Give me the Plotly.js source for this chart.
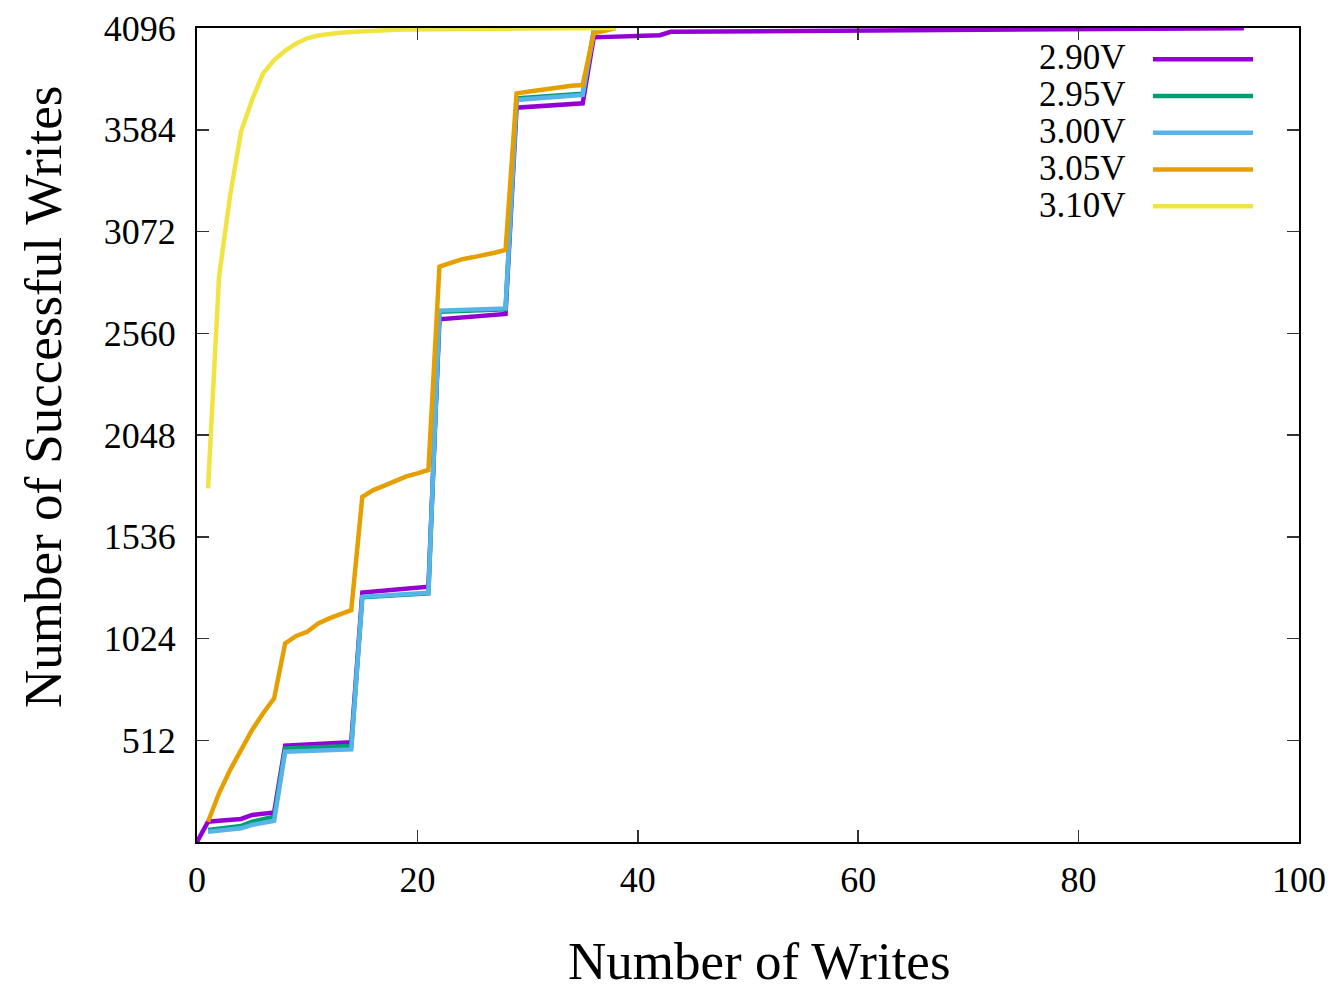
<!DOCTYPE html>
<html>
<head>
<meta charset="utf-8">
<script src="https://cdn.plot.ly/plotly-3.0.1.min.js"></script>
<style>html,body{margin:0;padding:0;background:#fff;}#chart{width:1335px;height:994px;}</style>
</head>
<body>
<div id="chart"></div>
<script>
// ---- data ----
const labels = ['2.90V', '2.95V', '3.00V', '3.05V', '3.10V'];
const colors = ['#9400d3', '#009e73', '#56b4e9', '#e69f00', '#f0e442'];

const x290 = [0,1,2,3,4,5,6,7,8,9,10,11,12,13,14,15,16,17,18,19,20,21,22,23,24,25,26,27,28,29,30,31,32,33,34,35,36,37,38,39,40,41,42,43,50,60,70,80,90,95];
const y290 = [0,102,107,112,116,136,142,149,485,488,491,494,497,500,502,1255,1260,1265,1270,1275,1280,1285,2630,2635,2639,2644,2648,2653,2657,3695,3699,3703,3707,3710,3714,3717,4049,4051,4053,4055,4056,4058,4060,4077,4080,4084,4088,4094,4095,4095];

const x295 = [1,2,3,4,5,6,7,8,9,10,11,12,13,14,15,16,17,18,19,20,21,22,23,24,25,26,27,28,29,30,31,32,33,34,35,36,37];
const y295 = [60,67,74,80,102,115,127,471,473,475,477,479,481,483,1231,1234,1238,1241,1244,1248,1251,2668,2670,2672,2674,2676,2678,2680,3742,3746,3750,3754,3758,3762,3765,4080,4094];

const x300 = [1,2,3,4,5,6,7,8,9,10,11,12,13,14,15,16,17,18,19,20,21,22,23,24,25,26,27,28,29,30,31,32,33,34,35,36,37];
const y300 = [52,58,63,69,86,97,107,454,456,458,460,462,464,466,1234,1237,1241,1244,1247,1251,1254,2674,2676,2678,2680,2682,2684,2685,3734,3738,3742,3746,3751,3755,3759,4078,4094];

const x305 = [1,2,3,4,5,6,7,8,9,10,11,12,13,14,15,16,17,18,19,20,21,22,23,24,25,26,27,28,29,30,31,32,33,34,35,36,37,38];
const y305 = [102,245,362,463,564,648,723,1000,1037,1058,1100,1125,1146,1167,1737,1771,1793,1815,1840,1855,1872,2895,2915,2932,2942,2952,2965,2979,3767,3775,3783,3792,3800,3805,3809,4069,4082,4096];

const x310 = [1,2,3,4,5,6,7,8,9,10,11,12,13,14,15,16,17,18,19,20,21,22,23,24,25,26,27,28,29,30,31,32,33,34,35,36,37,38];
const y310 = [1780,2845,3250,3575,3735,3868,3935,3982,4018,4044,4058,4066,4072,4076,4080,4083,4085,4087,4088,4089,4090,4090,4091,4091,4092,4092,4092,4093,4093,4093,4094,4094,4094,4095,4095,4095,4095,4096];

const xTicks = [0, 20, 40, 60, 80, 100];
const yTicks = [512, 1024, 1536, 2048, 2560, 3072, 3584, 4096];
const xTitle = 'Number of Writes';
const yTitle = 'Number of Successful Writes';

const xs = [x290, x295, x300, x305, x310];
const ys = [y290, y295, y300, y305, y310];

const FONT = 'Liberation Serif, Times New Roman, serif';

const traces = labels.map((lab, i) => ({
  type: 'scatter', mode: 'lines',
  x: xs[i], y: ys[i],
  name: ' ',
  hovertemplate: lab + ': %{y}<extra></extra>',
  line: {color: colors[i], width: 4.5}
}));

// legend labels drawn to the left of the legend line samples (gnuplot style)
const legendTop = 0.9643, legendStep = 0.04545;
const annotations = labels.map((lab, i) => ({
  xref: 'paper', yref: 'paper',
  x: 0.8448, y: legendTop - i * legendStep,
  xanchor: 'right', yanchor: 'middle',
  text: lab, showarrow: false,
  font: {family: FONT, size: 35, color: '#000'}
}));

// axis titles placed as in the reference
annotations.push({
  xref: 'paper', yref: 'paper', x: (760 - 197) / 1102, y: -(961 - 842) / 814,
  xanchor: 'center', yanchor: 'middle', showarrow: false,
  text: xTitle, font: {family: FONT, size: 53, color: '#000'}
});
annotations.push({
  xref: 'paper', yref: 'paper', x: -(197 - 43) / 1102, y: (842 - 397) / 814,
  xanchor: 'center', yanchor: 'middle', showarrow: false, textangle: -90,
  text: yTitle, font: {family: FONT, size: 53, color: '#000'}
});

const layout = {
  width: 1335, height: 994,
  margin: {l: 197, r: 36, t: 28, b: 152},
  paper_bgcolor: '#fff', plot_bgcolor: '#fff',
  font: {family: FONT, color: '#000'},
  showlegend: true,
  legend: {
    x: (1148 - 197) / 1102, xanchor: 'left',
    y: 0.9905, yanchor: 'top',
    bgcolor: 'rgba(0,0,0,0)',
    font: {family: FONT, size: 26},
    itemwidth: 100,
    tracegroupgap: 0
  },
  annotations: annotations,
  xaxis: {
    range: [0, 100],
    tickvals: xTicks,
    ticktext: xTicks.map(String),
    ticks: 'inside', ticklen: 12, tickwidth: 1.5, tickcolor: '#333',
    ticklabelstandoff: 5,
    showline: true, linecolor: '#000', linewidth: 2, mirror: 'ticks',
    showgrid: false, zeroline: false,
    tickfont: {family: FONT, size: 36, color: '#000'}
  },
  yaxis: {
    range: [0, 4096],
    tickvals: yTicks,
    ticktext: yTicks.map(String),
    ticks: 'inside', ticklen: 12, tickwidth: 1.5, tickcolor: '#333',
    ticklabelstandoff: 12,
    showline: true, linecolor: '#000', linewidth: 2, mirror: 'ticks',
    showgrid: false, zeroline: false,
    tickfont: {family: FONT, size: 36, color: '#000'}
  }
};

Plotly.newPlot('chart', traces, layout, {displayModeBar: false, staticPlot: true});
</script>
</body>
</html>
